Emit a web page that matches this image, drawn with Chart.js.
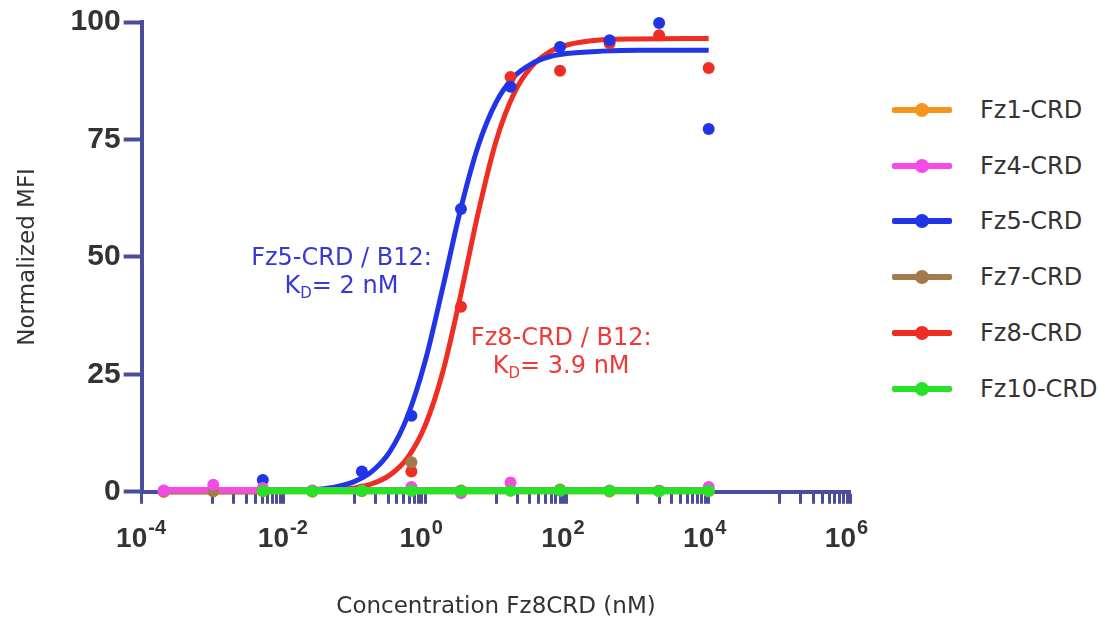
<!DOCTYPE html>
<html>
<head>
<meta charset="utf-8">
<script src="https://cdn.jsdelivr.net/npm/chart.js@4.4.1/dist/chart.umd.min.js"></script>
<style>
  html, body { margin: 0; padding: 0; background: #fff; }
  body { width: 1105px; height: 623px; position: relative; overflow: hidden; font-family: "DejaVu Sans", sans-serif; }
  #wrap { position: absolute; left: 0; top: 0; width: 885px; height: 623px; }
  #legend { position: absolute; left: 892px; top: 82px; }
  .row { height: 55.8px; display: flex; align-items: center; }
  .mark { position: relative; width: 60px; height: 6px; border-radius: 2px; }
  .mark span { position: absolute; left: 23px; top: -4px; width: 14px; height: 14px; border-radius: 50%; background: inherit; }
  .lab { margin-left: 28px; font-size: 24px; color: #333; }
</style>
</head>
<body>
<div id="wrap"><canvas id="bindingChart"></canvas></div>
<div id="legend"></div>
<script>
// concentrations (nM), 5-fold dilution series
const concentrations = [0.0002048, 0.001024, 0.00512, 0.0256, 0.128, 0.64, 3.2, 16, 80, 400, 2000, 10000];

// measured points (normalized MFI)
const fz1Values = [0.0, 0.2, 0.1, 0.0, 0.1, 0.2, 0.2, 0.2, 0.4, 0.0, 0.1, 0.1];
const fz4Values = [0.3, 1.5, 0.8, 0.3, 0.2, 1.0, -0.3, 2.0, 0.2, 0.3, 0.2, 1.0];
const fz5Values = [0.1, 0.3, 2.5, 0.2, 4.3, 16.2, 60.2, 86.2, 94.7, 96.1, 99.8, 77.2];
const fz7Values = [0.1, 0.2, 0.2, 0.1, 0.3, 6.3, 0.3, 0.4, 0.5, 0.2, 0.2, 0.3];
const fz8Values = [0.0, 0.1, 0.2, 0.1, 0.5, 4.3, 39.4, 88.3, 89.6, 95.5, 97.2, 90.2];
const fz10Values = [null, null, 0.2, 0.1, 0.2, 0.2, 0.1, 0.2, 0.3, 0.2, 0.1, 0.2];

// fitted curves
const fitConc = [0.0002048, 0.001, 0.01, 0.0316, 0.0562, 0.1, 0.178, 0.316, 0.562, 1, 1.78, 3.16, 5.62, 10, 17.8, 31.6, 56.2, 100, 316, 1000, 10000];
const fz5Fit = [0, 0.02, 0.13, 0.53, 1.07, 2.17, 4.35, 8.5, 16.0, 27.8, 43.6, 60.1, 73.7, 82.9, 88.3, 91.1, 92.6, 93.3, 93.8, 94.0, 94.0];
const fz8Fit = [0, 0.01, 0.04, 0.18, 0.39, 0.82, 1.71, 3.55, 7.2, 14.1, 25.6, 41.8, 59.5, 74.6, 84.7, 90.5, 93.6, 95.1, 96.2, 96.4, 96.5];

// flat fits of the non-binding receptors
const flatConc = [0.0002048, 10000];
const fz1Fit = [0.1, 0.1];
const fz4Fit = [0.4, 0.4];
const fz7Fit = [0.2, 0.2];
const fz10FitConc = [0.00512, 10000];
const fz10Fit = [0.2, 0.2];

const seriesNames = ["Fz1-CRD", "Fz4-CRD", "Fz5-CRD", "Fz7-CRD", "Fz8-CRD", "Fz10-CRD"];
const seriesColors = ["#F7941D", "#F64AE6", "#2134E6", "#A37A4C", "#EF2D23", "#27E227"];

// x tick labels: base "10" with an exponent
const xTickValues = [1e-4, 1e-2, 1, 1e2, 1e4, 1e6];
const xTickBase = "10";
const xTickExponents = ["-4", "-2", "0", "2", "4", "6"];
const yTickStep = 25;

const axisColor = "#4B4C9B";
const textColor = "#333";
const tickFont = '"Liberation Sans", "DejaVu Sans"';

// K_D labels, anchored in data space
const notes = [
  { title: "Fz5-CRD / B12:", kd: "= 2 nM", x: 0.066, y: 49.5, color: "#3838D2" },
  { title: "Fz8-CRD / B12:", kd: "= 3.9 nM", x: 83, y: 32.5, color: "#EE3A36" },
];

function pts(xs, ys) {
  return xs.map((x, i) => ({ x: x, y: ys[i] })).filter((p) => p.y !== null);
}

function lineSet(label, xs, ys, color, width, order) {
  return {
    type: "line",
    label: label,
    data: pts(xs, ys),
    borderColor: color,
    borderWidth: width,
    pointRadius: 0,
    fill: false,
    cubicInterpolationMode: "monotone",
    clip: false,
    order: order,
  };
}

function pointSet(label, ys, color, order) {
  return {
    type: "scatter",
    label: label,
    data: pts(concentrations, ys),
    backgroundColor: color,
    borderColor: color,
    pointRadius: 6,
    borderWidth: 0,
    showLine: false,
    clip: false,
    order: order,
  };
}

// minor ticks at 1..9 x the odd decades, major at the even ones
const xAllTicks = [];
xTickValues.forEach((v, i) => {
  xAllTicks.push(v);
  if (i < xTickValues.length - 1) {
    for (let k = 1; k <= 9; k++) xAllTicks.push(k * v * 10);
  }
});

const X_LABEL_SHIFT = -10;
const X_TICK_LEN = 12;
const X_TICK_PAD = 19;

const notesPlugin = {
  id: "notes",
  afterDatasetsDraw(chart) {
    const ctx = chart.ctx;
    const xs = chart.scales.x;
    const ys = chart.scales.y;
    notes.forEach((n) => {
      const cx = xs.getPixelForValue(n.x);
      const cy = ys.getPixelForValue(n.y);
      ctx.save();
      ctx.fillStyle = n.color;
      ctx.textBaseline = "middle";
      ctx.font = '24px "DejaVu Sans"';
      ctx.textAlign = "center";
      ctx.fillText(n.title, cx, cy);
      // second line: K with subscript D
      const wK = ctx.measureText("K").width;
      const wRest = ctx.measureText(n.kd).width;
      ctx.font = '15px "DejaVu Sans"';
      const wD = ctx.measureText("D").width;
      const x0 = cx - (wK + wD + wRest) / 2;
      const y2 = cy + 28;
      ctx.textAlign = "left";
      ctx.font = '24px "DejaVu Sans"';
      ctx.fillText("K", x0, y2);
      ctx.font = '15px "DejaVu Sans"';
      ctx.fillText("D", x0 + wK, y2 + 7);
      ctx.font = '24px "DejaVu Sans"';
      ctx.fillText(n.kd, x0 + wK + wD, y2);
      ctx.restore();
    });
  },
  afterDraw(chart) {
    // exponents of the x tick labels
    const ctx = chart.ctx;
    const xs = chart.scales.x;
    ctx.save();
    ctx.font = "bold 28px " + tickFont;
    const wBase = ctx.measureText(xTickBase).width;
    ctx.font = "bold 20px " + tickFont;
    ctx.fillStyle = textColor;
    ctx.textAlign = "left";
    ctx.textBaseline = "top";
    const top = xs.top + X_TICK_LEN + X_TICK_PAD;
    xTickValues.forEach((v, i) => {
      const px = xs.getPixelForValue(v) + X_LABEL_SHIFT + wBase / 2 + 1;
      ctx.fillText(xTickExponents[i], px, top - 4);
    });
    ctx.restore();
  },
};

const datasets = [
  lineSet("Fz8 fit", fitConc, fz8Fit, seriesColors[4], 5, 30),
  lineSet("Fz5 fit", fitConc, fz5Fit, seriesColors[2], 5, 29),
  pointSet("Fz8-CRD", fz8Values, seriesColors[4], 28),
  pointSet("Fz5-CRD", fz5Values, seriesColors[2], 27),
  lineSet("Fz1 fit", flatConc, fz1Fit, seriesColors[0], 6, 26),
  lineSet("Fz7 fit", flatConc, fz7Fit, seriesColors[3], 6, 25),
  lineSet("Fz4 fit", flatConc, fz4Fit, seriesColors[1], 6, 24),
  pointSet("Fz1-CRD", fz1Values, seriesColors[0], 23),
  pointSet("Fz7-CRD", fz7Values, seriesColors[3], 22),
  pointSet("Fz4-CRD", fz4Values, seriesColors[1], 21),
  lineSet("Fz10 fit", fz10FitConc, fz10Fit, seriesColors[5], 7, 10),
  pointSet("Fz10-CRD", fz10Values, seriesColors[5], 9),
];

new Chart(document.getElementById("bindingChart"), {
  type: "scatter",
  data: { datasets: datasets },
  plugins: [notesPlugin],
  options: {
    responsive: true,
    maintainAspectRatio: false,
    animation: false,
    events: [],
    layout: { padding: { left: 14, top: 22, right: 0, bottom: 2 } },
    plugins: {
      legend: { display: false },
      tooltip: { enabled: false },
    },
    scales: {
      x: {
        type: "logarithmic",
        min: 1e-4,
        max: 1e6,
        afterBuildTicks: (scale) => {
          scale.ticks = xAllTicks.map((v) => ({ value: v }));
        },
        border: { color: axisColor, width: 4 },
        grid: {
          drawOnChartArea: false,
          drawTicks: true,
          tickLength: X_TICK_LEN,
          tickWidth: 3,
          tickColor: axisColor,
        },
        ticks: {
          autoSkip: false,
          maxRotation: 0,
          padding: X_TICK_PAD,
          labelOffset: X_LABEL_SHIFT,
          color: textColor,
          font: { family: tickFont, size: 28, weight: "bold" },
          callback: (value) => {
            const i = xTickValues.findIndex((v) => Math.abs(Math.log10(v) - Math.log10(value)) < 1e-6);
            return i >= 0 ? xTickBase : "";
          },
        },
        title: {
          display: true,
          text: "Concentration Fz8CRD (nM)",
          color: textColor,
          font: { family: '"DejaVu Sans"', size: 23 },
          padding: { top: 18, bottom: 0 },
        },
      },
      y: {
        min: 0,
        max: 100,
        border: { color: axisColor, width: 4 },
        grid: {
          drawOnChartArea: false,
          drawTicks: true,
          tickLength: 18,
          tickWidth: 4,
          tickColor: axisColor,
        },
        ticks: {
          stepSize: yTickStep,
          padding: 3,
          color: textColor,
          font: { family: tickFont, size: 30, weight: "bold" },
        },
        title: {
          display: true,
          text: "Normalized MFI",
          color: textColor,
          font: { family: '"DejaVu Sans"', size: 23 },
          padding: { top: 0, bottom: 26 },
        },
      },
    },
  },
});

// legend, line with a dot like the reference
const legend = document.getElementById("legend");
seriesNames.forEach((name, i) => {
  const row = document.createElement("div");
  row.className = "row";
  row.innerHTML =
    '<div class="mark" style="background:' + seriesColors[i] + '"><span></span></div>' +
    '<div class="lab">' + name + "</div>";
  legend.appendChild(row);
});
</script>
</body>
</html>
